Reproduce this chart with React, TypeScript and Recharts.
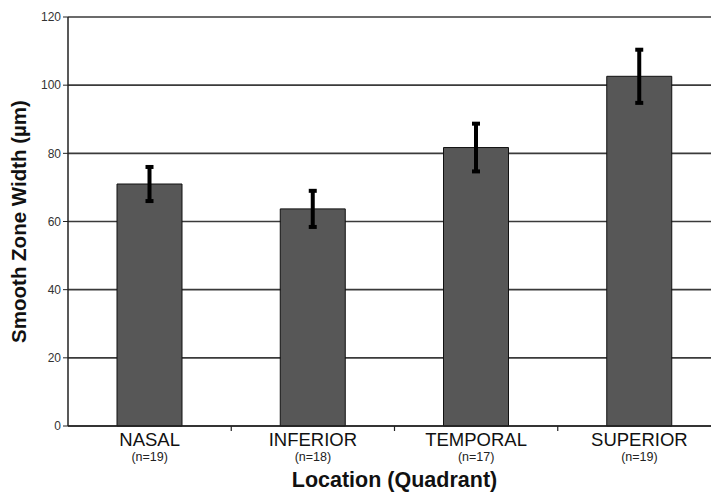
import React from 'react';
import { BarChart, Bar, CartesianGrid, ErrorBar, XAxis, YAxis } from 'recharts';

const locations = ['NASAL', 'INFERIOR', 'TEMPORAL', 'SUPERIOR'];
const counts = ['(n=19)', '(n=18)', '(n=17)', '(n=19)'];
const widths = [71, 63.7, 81.7, 102.6];
const errors = [5, 5.3, 7, 7.8];
const yTicks = [0, 20, 40, 60, 80, 100, 120];

const data = locations.map((loc, i) => ({
  loc,
  n: counts[i],
  value: widths[i],
  err: errors[i],
}));

const CHART_W = 730;
const CHART_H = 492;
const MARGIN = { top: 17, right: 9, left: 0, bottom: 0 };
const Y_AXIS_W = 68;
const HALF_BAND = (CHART_W - MARGIN.left - MARGIN.right - Y_AXIS_W) / locations.length / 2;
const FONT = '"Liberation Sans", Arial, sans-serif';

const LocationTick = (props: any) => {
  const { x, y, payload, index } = props;
  const row = data[index];
  return (
    <g>
      {index < locations.length - 1 && (
        <line x1={x + HALF_BAND} x2={x + HALF_BAND} y1={y - 8} y2={y - 3} stroke="#222" strokeWidth={1.2} />
      )}
      <text x={x} y={y} dy={12} textAnchor="middle" fontSize={18.5} fill="#111" fontFamily={FONT}>
        {payload.value}
      </text>
      <text x={x} y={y} dy={27} textAnchor="middle" fontSize={12.5} fill="#222" fontFamily={FONT}>
        {row ? row.n : ''}
      </text>
    </g>
  );
};

export default function App() {
  return (
    <div style={{ position: 'absolute', left: 0, top: 0, width: 711, height: 492, overflow: 'hidden', background: '#fff' }}>
      <BarChart width={CHART_W} height={CHART_H} data={data} margin={MARGIN}>
        <CartesianGrid vertical={false} stroke="#3a3a3a" strokeWidth={1.6} />
        <XAxis
          dataKey="loc"
          height={66}
          tickLine={false}
          axisLine={{ stroke: '#222', strokeWidth: 1.5 }}
          tick={<LocationTick />}
          interval={0}
          label={{
            value: 'Location (Quadrant)',
            position: 'insideBottom',
            offset: 5,
            style: { fontFamily: FONT, fontSize: 21.5, fontWeight: 'bold', fill: '#111' },
          }}
        />
        <YAxis
          width={Y_AXIS_W}
          domain={[0, 120]}
          ticks={yTicks}
          interval={0}
          tickSize={5}
          tick={{ fontFamily: FONT, fontSize: 12, fill: '#333' }}
          tickLine={{ stroke: '#222' }}
          axisLine={{ stroke: '#222', strokeWidth: 1.5 }}
          label={{
            value: 'Smooth Zone Width (µm)',
            angle: -90,
            position: 'insideLeft',
            offset: 19,
            style: { fontFamily: FONT, fontSize: 20.5, fontWeight: 'bold', fill: '#111', textAnchor: 'middle' },
          }}
        />
        <Bar dataKey="value" fill="#575757" stroke="#111" strokeWidth={1} barSize={65} isAnimationActive={false}>
          <ErrorBar dataKey="err" width={4} strokeWidth={4} stroke="#000" />
        </Bar>
      </BarChart>
    </div>
  );
}
